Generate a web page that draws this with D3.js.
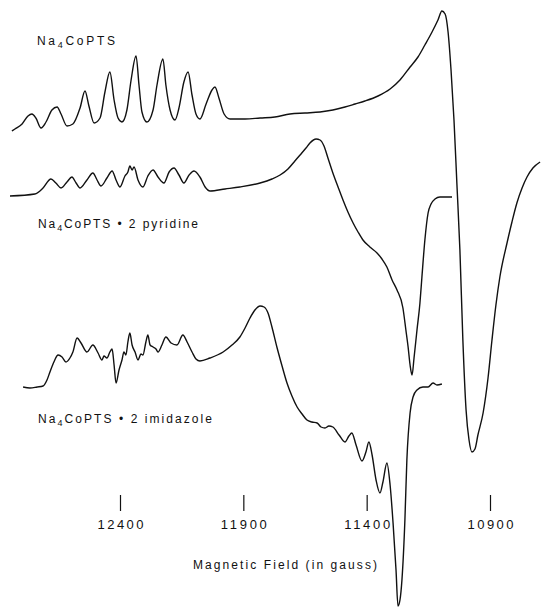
<!DOCTYPE html>
<meta charset="utf-8">
<script src="https://d3js.org/d3.v7.min.js"></script>
<body style="margin:0;background:#fff">
    <div id="data_vis"></div>
</body>
<script>
    // EPR traces: field in gauss, signal in arbitrary units (up = positive)
    const fieldPTS = [12838, 12826, 12797, 12773, 12757, 12741, 12720, 12700, 12676, 12655, 12639, 12615, 12591, 12562, 12542, 12526, 12505, 12481, 12461, 12441, 12424, 12408, 12392, 12372, 12355, 12335, 12323, 12311, 12291, 12266, 12250, 12226, 12214, 12197, 12177, 12161, 12141, 12124, 12108, 12092, 12076, 12051, 12027, 12015, 11999, 11978, 11954, 11893, 11832, 11772, 11711, 11650, 11589, 11537, 11488, 11447, 11407, 11354, 11305, 11265, 11224, 11192, 11164, 11135, 11111, 11095, 11082, 11070, 11058, 11046, 11034, 11022, 11010, 10997, 10985, 10973, 10961, 10949, 10928, 10908, 10892, 10876, 10860, 10831, 10811, 10791, 10770, 10750, 10726, 10697];
    const signalPTS = [-11, -9, -4, 4, 6, 2, -8, -2, 10, 13, 6, -6, -4, 12, 29, 14, -3, 2, 28, 48, 20, 2, -2, 10, 40, 64, 35, 8, -2, 10, 35, 61, 35, 10, 0, 12, 38, 48, 25, 6, 1, 16, 30, 33, 22, 6, 1, 1, 2, 3, 6, 7, 8, 10, 13, 16, 19, 24, 31, 40, 53, 63, 75, 88, 100, 109, 106, 88, 50, 0, -65, -130, -220, -290, -320, -332, -329, -315, -293, -258, -220, -185, -157, -123, -102, -83, -68, -57, -48, -42];

    const fieldPyr = [12846, 12745, 12712, 12680, 12660, 12639, 12615, 12595, 12578, 12562, 12534, 12510, 12493, 12477, 12453, 12432, 12416, 12400, 12380, 12368, 12360, 12351, 12343, 12327, 12307, 12287, 12266, 12246, 12222, 12201, 12181, 12161, 12141, 12120, 12100, 12076, 12055, 12035, 11974, 11914, 11832, 11784, 11751, 11719, 11691, 11670, 11646, 11630, 11605, 11589, 11573, 11557, 11537, 11516, 11496, 11476, 11455, 11435, 11415, 11387, 11358, 11338, 11318, 11297, 11277, 11253, 11241, 11232, 11224, 11216, 11208, 11196, 11184, 11176, 11164, 11151, 11139, 11123, 11103, 11079, 11054];
    const signalPyr = [-6, -4, 2, 11, 7, 2, 8, 13, 7, 2, 10, 17, 10, 4, 12, 19, 10, 3, 14, 18, 24, 20, 23, 10, 3, 14, 20, 13, 7, 18, 22, 15, 7, 15, 19, 13, 3, -1, 1, 3, 7, 11, 15, 21, 29, 35, 42, 47, 51, 50, 44, 32, 17, 3, -10, -22, -33, -42, -50, -57, -63, -69, -77, -90, -100, -118, -140, -157, -175, -185, -168, -140, -113, -87, -50, -23, -14, -9, -7, -7, -7];

    const fieldImid = [12793, 12765, 12736, 12712, 12696, 12684, 12668, 12651, 12635, 12619, 12603, 12591, 12574, 12558, 12534, 12510, 12489, 12473, 12465, 12453, 12441, 12432, 12424, 12416, 12404, 12392, 12384, 12376, 12368, 12360, 12351, 12339, 12327, 12315, 12307, 12295, 12287, 12278, 12266, 12254, 12246, 12230, 12214, 12193, 12169, 12145, 12128, 12108, 12092, 12076, 12035, 11982, 11946, 11914, 11893, 11873, 11853, 11832, 11816, 11800, 11784, 11764, 11743, 11723, 11703, 11682, 11662, 11642, 11622, 11601, 11585, 11569, 11553, 11537, 11512, 11488, 11472, 11460, 11443, 11419, 11403, 11391, 11378, 11362, 11346, 11334, 11318, 11305, 11293, 11281, 11273, 11265, 11257, 11245, 11237, 11224, 11212, 11196, 11172, 11151, 11131, 11115, 11095];
    const signalImid = [0, -1, 0, 1, 7, 15, 25, 32, 30, 25, 29, 35, 49, 44, 35, 42, 34, 27, 31, 29, 35, 38, 22, 4, 17, 27, 35, 32, 45, 54, 42, 35, 27, 33, 32, 45, 52, 42, 40, 38, 35, 42, 50, 44, 42, 52, 45, 35, 28, 26, 29, 35, 42, 50, 59, 69, 77, 81, 80, 74, 60, 40, 21, 4, -9, -20, -27, -33, -35, -36, -40, -41, -39, -40, -48, -55, -49, -46, -58, -74, -65, -55, -68, -93, -106, -95, -76, -98, -136, -183, -219, -213, -193, -133, -73, -26, -10, -3, 0, 0, 4, 2, 3];

    const tickValues = [12400, 11900, 11400, 10900];
    const tickLabels = ["12400", "11900", "11400", "10900"];
    const sampleSuffix = ["", " \u2022 2 pyridine", " \u2022 2 imidazole"];
    const axisTitle = "Magnetic Field (in gauss)";

    const width = 541,
        height = 610;

    const svg = d3.select("#data_vis")
        .append("svg")
        .attr("width", width)
        .attr("height", height)
        .style("display", "block")
        .style("font-family", "'Liberation Sans', Arial, sans-serif");

    // field axis runs high -> low from left to right
    const x = d3.scaleLinear()
        .domain([12400, 10900])
        .range([120, 490]);

    // one shared amplitude scale, each trace shifted to its own baseline
    const y = d3.scaleLinear()
        .domain([0, 100])
        .range([0, -100]);

    const traces = [
        { field: fieldPTS, signal: signalPTS, base: 120, label: [37, 45, 78] },
        { field: fieldPyr, signal: signalPyr, base: 190, label: [38, 228, 160] },
        { field: fieldImid, signal: signalImid, base: 387, label: [38, 423, 174] }
    ];

    const line = d3.line()
        .x(d => x(d[0]))
        .y(d => y(d[1]))
        .curve(d3.curveMonotoneX);

    traces.forEach((t, i) => {
        const pts = t.field.map((f, j) => [f, t.signal[j]]);
        svg.append("g")
            .attr("transform", `translate(0,${t.base})`)
            .append("path")
            .datum(pts)
            .attr("fill", "none")
            .attr("stroke", "#111")
            .attr("stroke-width", 1.4)
            .attr("stroke-linejoin", "round")
            .attr("d", line);

        // sample name with subscript 4
        const txt = svg.append("text")
            .attr("x", t.label[0])
            .attr("y", t.label[1])
            .attr("font-size", 12)
            .attr("fill", "#111")
            .attr("textLength", t.label[2])
            .attr("lengthAdjust", "spacing");
        txt.append("tspan").text("Na");
        txt.append("tspan").attr("font-size", 9).attr("dy", 3).text("4");
        txt.append("tspan").attr("dy", -3).text("CoPTS" + sampleSuffix[i]);
    });

    // field axis: ticks only, no domain line
    const axis = svg.append("g")
        .attr("transform", "translate(0,495)")
        .call(d3.axisBottom(x)
            .tickValues(tickValues)
            .tickFormat((d, i) => tickLabels[i])
            .tickSize(16)
            .tickPadding(9));
    axis.select(".domain").remove();
    axis.selectAll(".tick line").attr("stroke", "#111").attr("stroke-width", 1.2);
    axis.selectAll(".tick text")
        .attr("fill", "#111")
        .attr("font-size", 13)
        .attr("font-family", "'Liberation Sans', Arial, sans-serif")
        .attr("textLength", 46)
        .attr("lengthAdjust", "spacing");

    svg.append("text")
        .attr("x", 285)
        .attr("y", 569)
        .attr("text-anchor", "middle")
        .attr("font-size", 12)
        .attr("fill", "#111")
        .attr("textLength", 184)
        .attr("lengthAdjust", "spacing")
        .text(axisTitle);
</script>
